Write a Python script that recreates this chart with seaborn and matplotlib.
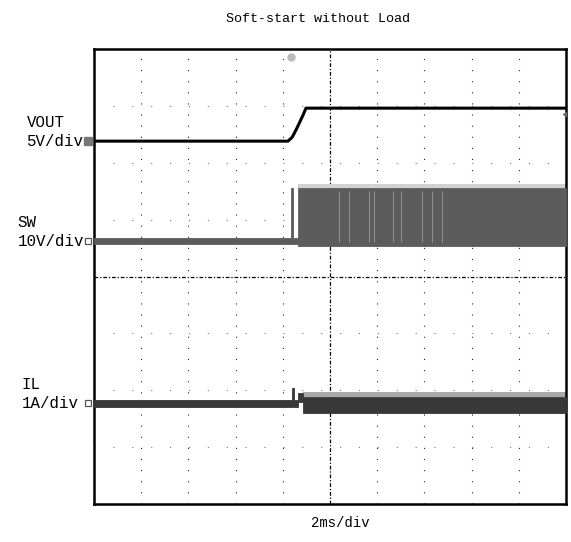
import matplotlib
matplotlib.use("Agg")
import matplotlib.pyplot as plt
import seaborn as sns
import pandas as pd

# Time axis in scope divisions (2 ms/div, 10 divisions), amplitude in divisions (8 divisions)
vout_t = [0.0, 4.11, 4.20, 4.30, 4.43, 4.49, 10.0]
vout_v = [2.38, 2.38, 2.45, 2.61, 2.84, 2.96, 2.96]

sw_t = [0.0, 4.17, 4.17, 4.21, 4.21, 4.33, 4.33, 10.0]
sw_hi = [0.68, 0.68, 1.55, 1.55, 0.68, 0.68, 1.56, 1.56]
sw_lo = [0.57, 0.57, 0.57, 0.57, 0.57, 0.57, 0.53, 0.53]
sw_peak = 1.62
sw_gaps = [5.19, 5.40, 5.83, 5.93, 6.33, 6.50, 6.95, 7.16, 7.37]

il_t = [0.0, 4.20, 4.20, 4.24, 4.24, 4.32, 4.32, 4.43, 4.43, 10.0]
il_hi = [-2.17, -2.17, -1.96, -1.96, -2.17, -2.17, -2.05, -2.05, -2.11, -2.11]
il_lo = [-2.29, -2.29, -2.29, -2.29, -2.29, -2.29, -2.20, -2.20, -2.40, -2.40]
il_peak = -2.03

channels = ["VOUT", "SW", "IL"]
scales = ["5V/div", "10V/div", "1A/div"]
ground_levels = [2.38, 0.62, -2.23]
label_x = [-1.43, -1.62, -1.53]

title = "Soft-start without Load"
timebase = "2ms/div"
trigger_t = 4.17
trigger_level = 2.85

sns.set_theme(style="white")
plt.rcParams["font.family"] = ["Liberation Mono", "DejaVu Sans"]

fig = plt.figure(figsize=(5.71, 5.42), dpi=100)
ax = fig.add_axes([94 / 571, 38 / 542, 472 / 571, 455 / 542])
ax.set_xlim(0, 10)
ax.set_ylim(-4, 4)

# Graticule: dotted division lines plus dash-dot centre axes
for x in range(1, 10):
    if x == 5:
        continue
    ax.axvline(x, color="#222222", lw=0.8, ls=(0, (1, 9.0)), zorder=1)
for y in range(-3, 4):
    if y == 0:
        continue
    ax.axhline(y, color="#777777", lw=0.8, ls=(0, (1, 16.0)), zorder=1)
ax.axvline(5, color="black", lw=0.9, ls=(0, (3, 1.5, 1, 1.5)), zorder=1)
ax.axhline(0, color="black", lw=0.9, ls=(0, (3, 1.5, 1, 1.5)), zorder=1)

# SW: switching node, dense block once the converter starts
ax.fill_between(sw_t[-2:], sw_hi[-1], sw_peak, color="#d2d2d2", lw=0, zorder=2)
ax.fill_between(sw_t, sw_lo, sw_hi, color="#5c5c5c", lw=0.6, ec="#5c5c5c", zorder=3)
for g in sw_gaps:
    ax.vlines(g, 0.6, 1.5, color="#9a9a9a", lw=0.6, zorder=3)

# IL: inductor current band
ax.fill_between(il_t[-2:], il_hi[-1], il_peak, color="#a8a8a8", lw=0, zorder=2)
ax.fill_between(il_t, il_lo, il_hi, color="#383838", lw=0.6, ec="#383838", zorder=3)

# VOUT: output voltage ramp
df = pd.DataFrame({"t": vout_t, "v": vout_v})
sns.lineplot(data=df, x="t", y="v", ax=ax, color="black", lw=2.2,
             estimator=None, zorder=4)

# Channel ground markers at the left edge
ax.plot([-0.12], [ground_levels[0]], marker="s", ms=6, color="#777777",
        clip_on=False, zorder=5)
for lvl in ground_levels[1:]:
    ax.plot([-0.12], [lvl], marker="s", ms=5, mfc="white", mec="#555555",
            mew=0.9, clip_on=False, zorder=5)

# Trigger position and level markers
ax.plot([trigger_t], [3.86], marker="o", ms=5, color="#bbbbbb", zorder=5)
ax.plot([9.93], [trigger_level], marker=4, ms=5, color="#666666", zorder=5)

# Channel labels
for name, sc, lvl, lx in zip(channels, scales, ground_levels, label_x):
    ax.text(lx, lvl + 0.33, name, ha="left", va="center", fontsize=11.3,
            color="black", clip_on=False)
    ax.text(lx, lvl, sc, ha="left", va="center", fontsize=11.3,
            color="black", clip_on=False)

for side in ["left", "right", "top", "bottom"]:
    ax.spines[side].set_visible(True)
    ax.spines[side].set_color("black")
    ax.spines[side].set_linewidth(1.8)
ax.set_xticks([])
ax.set_yticks([])
ax.set_xlabel("")
ax.set_ylabel("")

fig.text(318 / 571, 1 - 19 / 542, title, ha="center", va="center",
         fontsize=9.6, color="black")
fig.text(340 / 571, 1 - 523 / 542, timebase, ha="center", va="center",
         fontsize=10, color="black")

fig.savefig("out.png", dpi=100, facecolor="white")
